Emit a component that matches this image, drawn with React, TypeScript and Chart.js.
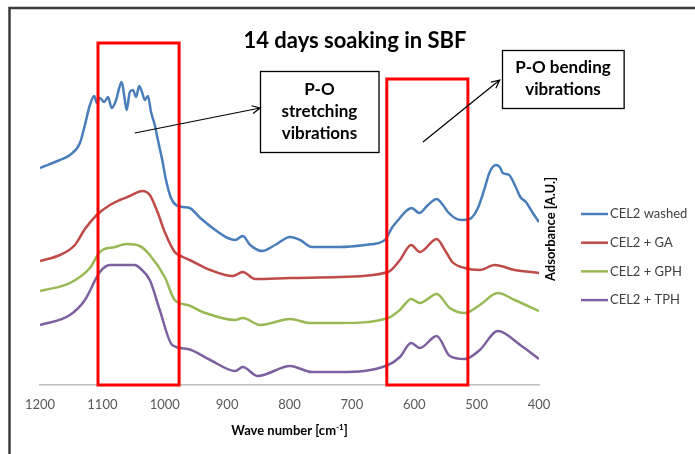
import { useEffect, useRef } from 'react';
import { Chart, registerables } from 'chart.js';

Chart.register(...registerables);

const FONT = 'Lato, "Open Sans", "Liberation Sans", sans-serif';

// ---- data (wave number [cm-1] vs. absorbance, arbitrary units) ----
const washedWave = [1200, 1168, 1152, 1136, 1128, 1120, 1113, 1109, 1104, 1097, 1091, 1085, 1078, 1073, 1069, 1064, 1061, 1056, 1051, 1046, 1041, 1036, 1032, 1027, 1022, 1016, 1011, 1004, 998, 990, 982, 971, 960, 943, 919, 899, 887, 875, 863, 844, 823, 799, 783, 764, 719, 679, 647, 636, 623, 613, 604, 592, 578, 564, 554, 546, 535, 523, 511, 498, 487, 479, 469, 463, 458, 448, 438, 430, 421, 411, 400];
const washedAbs = [2.17, 2.25, 2.30, 2.42, 2.60, 2.80, 2.89, 2.82, 2.87, 2.83, 2.88, 2.77, 2.85, 2.97, 3.03, 2.85, 2.75, 2.93, 2.95, 2.88, 2.99, 2.92, 2.85, 2.89, 2.73, 2.60, 2.45, 2.25, 2.05, 1.87, 1.80, 1.78, 1.77, 1.67, 1.55, 1.47, 1.45, 1.49, 1.40, 1.34, 1.40, 1.48, 1.45, 1.38, 1.38, 1.40, 1.45, 1.57, 1.67, 1.74, 1.77, 1.72, 1.80, 1.86, 1.80, 1.73, 1.67, 1.65, 1.66, 1.77, 1.97, 2.13, 2.20, 2.18, 2.12, 2.10, 1.99, 1.88, 1.83, 1.73, 1.63];

const gaWave = [1200, 1168, 1144, 1128, 1109, 1088, 1072, 1056, 1036, 1024, 1011, 1000, 984, 971, 960, 927, 891, 875, 855, 799, 719, 642, 623, 605, 591, 564, 551, 539, 519, 495, 471, 439, 400];
const gaAbs = [1.24, 1.30, 1.40, 1.56, 1.70, 1.80, 1.85, 1.89, 1.94, 1.90, 1.72, 1.53, 1.33, 1.28, 1.25, 1.15, 1.09, 1.13, 1.06, 1.07, 1.08, 1.13, 1.25, 1.40, 1.33, 1.46, 1.35, 1.23, 1.17, 1.15, 1.20, 1.15, 1.12];

const gphWave = [1200, 1152, 1120, 1104, 1080, 1061, 1040, 1024, 1000, 984, 963, 935, 887, 875, 847, 799, 767, 719, 642, 623, 605, 591, 564, 543, 519, 495, 466, 439, 400];
const gphAbs = [0.94, 1.02, 1.17, 1.33, 1.38, 1.41, 1.39, 1.30, 1.08, 0.85, 0.80, 0.72, 0.65, 0.67, 0.60, 0.66, 0.62, 0.62, 0.67, 0.75, 0.86, 0.82, 0.91, 0.77, 0.72, 0.80, 0.92, 0.85, 0.74];

const tphWave = [1200, 1152, 1128, 1104, 1088, 1064, 1048, 1040, 1024, 1008, 988, 963, 927, 887, 875, 851, 799, 764, 719, 642, 623, 605, 591, 564, 543, 519, 495, 466, 430, 400];
const tphAbs = [0.60, 0.70, 0.85, 1.13, 1.20, 1.20, 1.20, 1.17, 1.05, 0.75, 0.40, 0.36, 0.25, 0.14, 0.18, 0.09, 0.19, 0.13, 0.13, 0.20, 0.28, 0.42, 0.37, 0.49, 0.29, 0.26, 0.35, 0.54, 0.40, 0.26];

const seriesLabels = ['CEL2 washed', 'CEL2 + GA', 'CEL2 + GPH', 'CEL2 + TPH'];
const seriesColors = ['#4A7EBB', '#BE4B48', '#98B954', '#7D60A0'];

// axis
const xMin = 400;
const xMax = 1200;
const xStep = 100;
const yMin = 0;
const yMax = 3.45;

// texts
const titleText = '14 days soaking in SBF';
const yTitle = 'Adsorbance [A.U.]';
const xTitleMain = 'Wave number [cm';
const xTitleSup = '-1';
const xTitleEnd = ']';

// annotations (in data coordinates)
const bandLeft = [1107, 644];
const bandRight = [977, 514];
const bandTop = [3.42, 3.06];

const noteLeft = [847, 459];
const noteRight = [657, 264];
const noteTop = [3.14, 3.35];
const noteBottom = [2.33, 2.77];
const noteLines = [['P-O', 'stretching', 'vibrations'], ['P-O bending', 'vibrations']];

const arrowFromX = [1048, 586];
const arrowFromY = [2.52, 2.43];
const arrowToX = [847, 463];
const arrowToY = [2.77, 3.05];

function toPoints(w: number[], a: number[]) {
  return w.map((x, i) => ({ x, y: a[i] }));
}

const overlay = {
  id: 'overlay',
  afterDraw(chart: any) {
    const { ctx } = chart;
    const xs = chart.scales.x;
    const ys = chart.scales.y;
    const px = (v: number) => xs.getPixelForValue(v);
    const py = (v: number) => ys.getPixelForValue(v);
    ctx.save();

    // outer frame
    ctx.strokeStyle = '#3c3c3c';
    ctx.lineWidth = 2.5;
    ctx.beginPath();
    ctx.moveTo(9.5, chart.height);
    ctx.lineTo(9.5, 8);
    ctx.lineTo(chart.width, 8);
    ctx.stroke();

    // red bands
    ctx.strokeStyle = '#FF0000';
    ctx.lineWidth = 3;
    for (let i = 0; i < bandLeft.length; i++) {
      const l = px(bandLeft[i]);
      const r = px(bandRight[i]);
      const t = py(bandTop[i]);
      const b = py(0);
      ctx.strokeRect(l, t, r - l, b - t);
    }

    // note boxes
    for (let i = 0; i < noteLeft.length; i++) {
      const l = px(noteLeft[i]);
      const r = px(noteRight[i]);
      const t = py(noteTop[i]);
      const b = py(noteBottom[i]);
      ctx.fillStyle = '#ffffff';
      ctx.fillRect(l, t, r - l, b - t);
      ctx.strokeStyle = '#000000';
      ctx.lineWidth = 1.3;
      ctx.strokeRect(Math.round(l) + 0.5, Math.round(t) + 0.5, r - l, b - t);
      const lines = noteLines[i];
      const lh = 22;
      const cx = (l + r) / 2;
      const cy = (t + b) / 2;
      ctx.fillStyle = '#000000';
      ctx.font = 'bold 17px ' + FONT;
      ctx.textAlign = 'center';
      ctx.textBaseline = 'middle';
      lines.forEach((s, k) => {
        ctx.fillText(s, cx, cy + (k - (lines.length - 1) / 2) * lh);
      });
    }

    // arrows
    ctx.strokeStyle = '#000000';
    ctx.lineWidth = 1.2;
    for (let i = 0; i < arrowFromX.length; i++) {
      const x0 = px(arrowFromX[i]);
      const y0 = py(arrowFromY[i]);
      const x1 = px(arrowToX[i]);
      const y1 = py(arrowToY[i]);
      ctx.beginPath();
      ctx.moveTo(x0, y0);
      ctx.lineTo(x1, y1);
      const ang = Math.atan2(y1 - y0, x1 - x0);
      const hl = 9;
      ctx.moveTo(x1 - hl * Math.cos(ang - 0.45), y1 - hl * Math.sin(ang - 0.45));
      ctx.lineTo(x1, y1);
      ctx.lineTo(x1 - hl * Math.cos(ang + 0.45), y1 - hl * Math.sin(ang + 0.45));
      ctx.stroke();
    }

    // title
    ctx.fillStyle = '#000000';
    ctx.font = 'bold 22px ' + FONT;
    ctx.textAlign = 'center';
    ctx.textBaseline = 'alphabetic';
    ctx.fillText(titleText, 355, 48);

    // y title (right side, rotated)
    ctx.save();
    ctx.translate(551, 229);
    ctx.rotate(-Math.PI / 2);
    ctx.font = 'bold 13px ' + FONT;
    ctx.textAlign = 'center';
    ctx.textBaseline = 'middle';
    ctx.fillText(yTitle, 0, 0);
    ctx.restore();

    // x title with superscript
    ctx.font = 'bold 13px ' + FONT;
    const w1 = ctx.measureText(xTitleMain).width;
    ctx.font = 'bold 8px ' + FONT;
    const w2 = ctx.measureText(xTitleSup).width;
    ctx.font = 'bold 13px ' + FONT;
    const w3 = ctx.measureText(xTitleEnd).width;
    const total = w1 + w2 + w3;
    let xx = (chart.chartArea.left + chart.chartArea.right) / 2 - total / 2;
    const base = 435;
    ctx.textAlign = 'left';
    ctx.fillText(xTitleMain, xx, base);
    xx += w1;
    ctx.font = 'bold 8px ' + FONT;
    ctx.fillText(xTitleSup, xx, base - 5);
    xx += w2;
    ctx.font = 'bold 13px ' + FONT;
    ctx.fillText(xTitleEnd, xx, base);

    // legend
    const legendTop = 214;
    const legendGap = 28.7;
    chart.data.datasets.forEach((ds: any, i: number) => {
      const y = legendTop + i * legendGap;
      ctx.strokeStyle = ds.borderColor;
      ctx.lineWidth = 2.5;
      ctx.beginPath();
      ctx.moveTo(581, y);
      ctx.lineTo(608, y);
      ctx.stroke();
      ctx.fillStyle = '#404040';
      ctx.font = '13px ' + FONT;
      ctx.textAlign = 'left';
      ctx.textBaseline = 'middle';
      ctx.fillText(ds.label, 610, y);
    });

    ctx.restore();
  },
};

export default function App() {
  const ref = useRef<HTMLCanvasElement>(null);
  useEffect(() => {
    document.body.style.margin = '0';
    const canvas = ref.current;
    if (!canvas) return;
    const series = [
      toPoints(washedWave, washedAbs),
      toPoints(gaWave, gaAbs),
      toPoints(gphWave, gphAbs),
      toPoints(tphWave, tphAbs),
    ];
    const chart = new Chart(canvas, {
      type: 'line',
      data: {
        datasets: series.map((pts, i) => ({
          label: seriesLabels[i],
          data: pts,
          borderColor: seriesColors[i],
          backgroundColor: seriesColors[i],
          borderWidth: 2.5,
          pointRadius: 0,
          cubicInterpolationMode: 'monotone',
          fill: false,
        })),
      },
      options: {
        animation: false,
        responsive: false,
        devicePixelRatio: 1,
        layout: { padding: { left: 40, right: 156, top: 40, bottom: 0 } },
        plugins: {
          legend: { display: false },
          title: { display: false },
          tooltip: { enabled: false },
        },
        scales: {
          x: {
            type: 'linear',
            reverse: true,
            min: xMin,
            max: xMax,
            ticks: {
              stepSize: xStep,
              color: '#595959',
              font: { family: FONT, size: 13 },
              padding: 12,
              maxRotation: 0,
              callback: (v: any) => String(v),
            },
            grid: { display: true, color: 'rgba(0,0,0,0)', drawTicks: false },
            border: { display: true, color: '#BFBFBF', width: 1.5 },
            afterFit: (s: any) => {
              s.height = 69;
            },
          },
          y: {
            display: false,
            min: yMin,
            max: yMax,
          },
        },
      },
      plugins: [overlay],
    });
    return () => chart.destroy();
  }, []);
  return <canvas ref={ref} width={695} height={454} style={{ display: 'block' }} />;
}
